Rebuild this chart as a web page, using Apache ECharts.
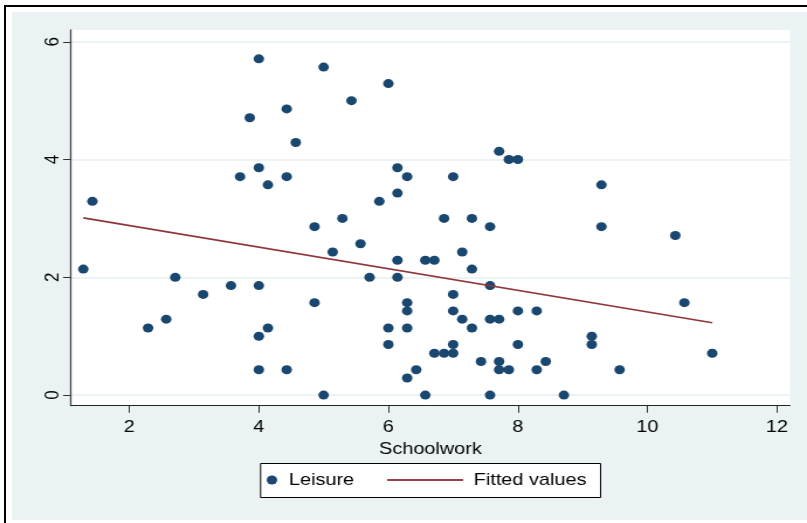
<!DOCTYPE html>
<html>
<head>
<meta charset="utf-8">
<script src="https://cdn.jsdelivr.net/npm/echarts@6/dist/echarts.min.js"></script>
<style>
  html, body { margin: 0; padding: 0; background: #fff; width: 807px; height: 523px; overflow: hidden; }
  #frameTop  { position: absolute; left: 4px; top: 5px; width: 803px; height: 2px; background: #000; }
  #frameLeft { position: absolute; left: 4px; top: 5px; width: 2px; height: 518px; background: #000; }
  #panel     { position: absolute; left: 12px; top: 12px; width: 795px; height: 508px; background: #EAF2F3; }
  /* graph is laid out narrower and stretched horizontally to the full window */
  #chart     { position: absolute; left: 0; top: 0; width: 690px; height: 523px;
               transform: scaleX(1.1696); transform-origin: 0 0; }
</style>
</head>
<body>
<div id="frameTop"></div>
<div id="frameLeft"></div>
<div id="panel"></div>
<div id="chart"></div>
<script>
// Hours per day: schoolwork (x) vs leisure (y)
const schoolwork = [
  4.00, 3.86, 4.43, 4.57, 3.71, 4.00, 4.14, 4.43, 1.43, 1.29,
  2.71, 3.14, 3.57, 4.00, 2.29, 2.57, 4.00, 4.14, 4.00, 4.43,
  5.00, 6.00, 5.43, 6.14, 6.29, 7.00, 7.71, 7.86, 8.00, 6.14,
  5.86, 5.29, 4.86, 6.86, 7.29, 7.57, 5.57, 5.14, 6.14, 6.57,
  6.71, 7.14, 7.29, 5.71, 6.14, 7.57, 7.00, 4.86, 6.29, 6.29,
  7.00, 7.14, 7.29, 7.57, 7.71, 8.00, 8.29, 6.00, 6.29, 6.00,
  7.00, 6.71, 6.86, 7.00, 8.00, 7.43, 7.71, 7.71, 7.86, 8.29,
  6.43, 6.29, 5.00, 6.57, 7.57, 9.29, 9.29, 10.43, 10.57, 11.00,
  9.14, 9.14, 8.43, 9.57, 8.71
];
const leisure = [
  5.71, 4.71, 4.86, 4.29, 3.71, 3.86, 3.57, 3.71, 3.29, 2.14,
  2.00, 1.71, 1.86, 1.86, 1.14, 1.29, 1.00, 1.14, 0.43, 0.43,
  5.57, 5.29, 5.00, 3.86, 3.71, 3.71, 4.14, 4.00, 4.00, 3.43,
  3.29, 3.00, 2.86, 3.00, 3.00, 2.86, 2.57, 2.43, 2.29, 2.29,
  2.29, 2.43, 2.14, 2.00, 2.00, 1.86, 1.71, 1.57, 1.57, 1.43,
  1.43, 1.29, 1.14, 1.29, 1.29, 1.43, 1.43, 1.14, 1.14, 0.86,
  0.86, 0.71, 0.71, 0.71, 0.86, 0.57, 0.57, 0.43, 0.43, 0.43,
  0.43, 0.29, 0.00, 0.00, 0.00, 3.57, 2.86, 2.71, 1.57, 0.71,
  1.00, 0.86, 0.57, 0.43, 0.00
];
// Linear fit, drawn between the smallest and largest schoolwork value
const fitX = [1.29, 11.00];
const fitY = [3.01, 1.23];

const xTicks = [2, 4, 6, 8, 10, 12];
const yTicks = [0, 2, 4, 6];

const FONT = "'Liberation Sans', Arial, Helvetica, sans-serif";
const NAVY = '#1A476F';
const MAROON = '#90353B';

const chart = echarts.init(document.getElementById('chart'));
chart.setOption({
  animation: false,
  textStyle: { fontFamily: FONT },
  grid: {
    left: 60.7, right: 14.6, top: 30, bottom: 117.3,
    show: true, backgroundColor: '#fff', borderWidth: 0
  },
  xAxis: {
    type: 'value', min: 1.1, max: 12.2,
    name: 'Schoolwork', nameLocation: 'middle', nameGap: 29,
    nameTextStyle: { fontSize: 17, color: '#000', fontFamily: FONT },
    axisLine: { onZero: false, lineStyle: { color: '#222', width: 1 } },
    axisTick: { length: 7, lineStyle: { color: '#333' }, customValues: xTicks },
    axisLabel: { fontSize: 17, color: '#000', margin: 13, customValues: xTicks },
    splitLine: { show: false }
  },
  yAxis: {
    type: 'value', min: -0.18, max: 6.2,
    axisLine: { show: true, onZero: false, lineStyle: { color: '#444', width: 1.3 } },
    axisTick: { show: true, length: 6.8, lineStyle: { color: '#333' }, customValues: yTicks },
    axisLabel: { fontSize: 17, color: '#000', rotate: 90, margin: 7, customValues: yTicks },
    splitLine: { show: true, lineStyle: { color: '#E6EFF1', width: 1.6 } }
  },
  graphic: [{
    type: 'rect', left: 222.3, top: 463, z: 0,
    shape: { width: 290.7, height: 34 },
    style: { fill: '#fff', stroke: '#000', lineWidth: 1 }
  }],
  legend: [
    {
      data: ['Leisure'], left: 228, top: 471.5, padding: 0,
      itemWidth: 19, itemHeight: 9,
      textStyle: { fontSize: 17, color: '#000', fontFamily: FONT }
    },
    {
      data: ['Fitted values'], left: 330, top: 471.5, padding: 0,
      itemWidth: 65, itemHeight: 2,
      itemStyle: { color: 'rgba(0,0,0,0)', borderColor: 'rgba(0,0,0,0)', borderWidth: 0 },
      lineStyle: { color: '#9A4048', width: 2 },
      textStyle: { fontSize: 17, color: '#000', fontFamily: FONT, padding: [0, 0, 0, 4] }
    }
  ],
  series: [
    {
      name: 'Leisure', type: 'scatter', symbol: 'circle', symbolSize: 9,
      itemStyle: { color: NAVY, opacity: 1 },
      data: schoolwork.map((x, i) => [x, leisure[i]])
    },
    {
      name: 'Fitted values', type: 'line', showSymbol: false, symbol: 'none',
      lineStyle: { color: MAROON, width: 1.6 },
      itemStyle: { color: MAROON },
      data: fitX.map((x, i) => [x, fitY[i]])
    }
  ]
});
</script>
</body>
</html>
